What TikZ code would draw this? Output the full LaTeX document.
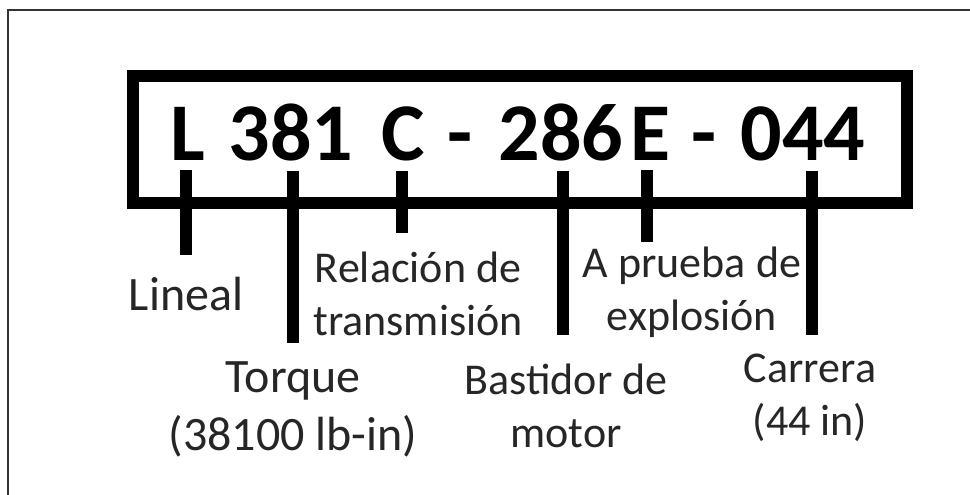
\documentclass[tikz,border=0pt]{standalone}
\usepackage{fontspec}
\setmainfont{Carlito}

\tikzset{
  code/.style={font=\bfseries\fontsize{82}{90}\selectfont, inner sep=0pt, anchor=base},
  lbl/.style={font=\fontsize{44}{53}\selectfont, align=center, inner sep=0pt, anchor=base, text=black!85},
  lblbig/.style={lbl, font=\fontsize{48}{57.5}\selectfont},
  tickline/.style={black, line width=12pt},
}

\begin{document}
\begin{tikzpicture}[x=1pt,y=-1pt]
\useasboundingbox (0,0) rectangle (970,495);
\fill[white] (0,0) rectangle (970,495);
% frame
\draw[black!80, line width=1.3pt] (8,495) -- (8,10) -- (970,10);
\draw[black, line width=12pt] (133,76) rectangle (906.5,203);
% code text
\node[code] (cL) at (187.5,160) {L};
\node[code] (c381) at (291,160) {381};
\node[code] (cC) at (403,160) {C};
\node[code] (dash1) at (460,160) {-};
\node[code] (c286) at (561,160) {286};
\node[code] (cE) at (650,160) {E};
\node[code] (dash2) at (704,160) {-};
\node[code] (c044) at (803,160) {044};
% labels
\node[lblbig] (lineal) at (186,310) {Lineal};
\node[lblbig] (torque) at (293,450) {Torque\\(38100 lb-in)};
\node[lbl] (relacion) at (418,335) {Relación de\\transmisión};
\node[lbl] (bastidor) at (566,447) {Bastidor de\\motor};
\node[lbl] (prueba) at (692,330) {A prueba de\\explosión};
\node[lbl] (carrera) at (810,435) {Carrera\\(44 in)};
% ticks
\coordinate (tL) at (186,255);
\coordinate (t381) at (293,343);
\coordinate (tC) at (402,233);
\coordinate (t286) at (563,335);
\coordinate (tE) at (647,242);
\coordinate (t044) at (812,335);
\draw[tickline] (tL |- cL.south) ++(0,10) -- (tL);
\draw[tickline] (t381 |- c381.south) ++(0,10) -- (t381);
\draw[tickline] (tC |- cC.south) ++(0,10) -- (tC);
\draw[tickline] (t286 |- c286.south) ++(0,10) -- (t286);
\draw[tickline] (tE |- cE.south) ++(0,10) -- (tE);
\draw[tickline] (t044 |- c044.south) ++(0,10) -- (t044);
\end{tikzpicture}
\end{document}
